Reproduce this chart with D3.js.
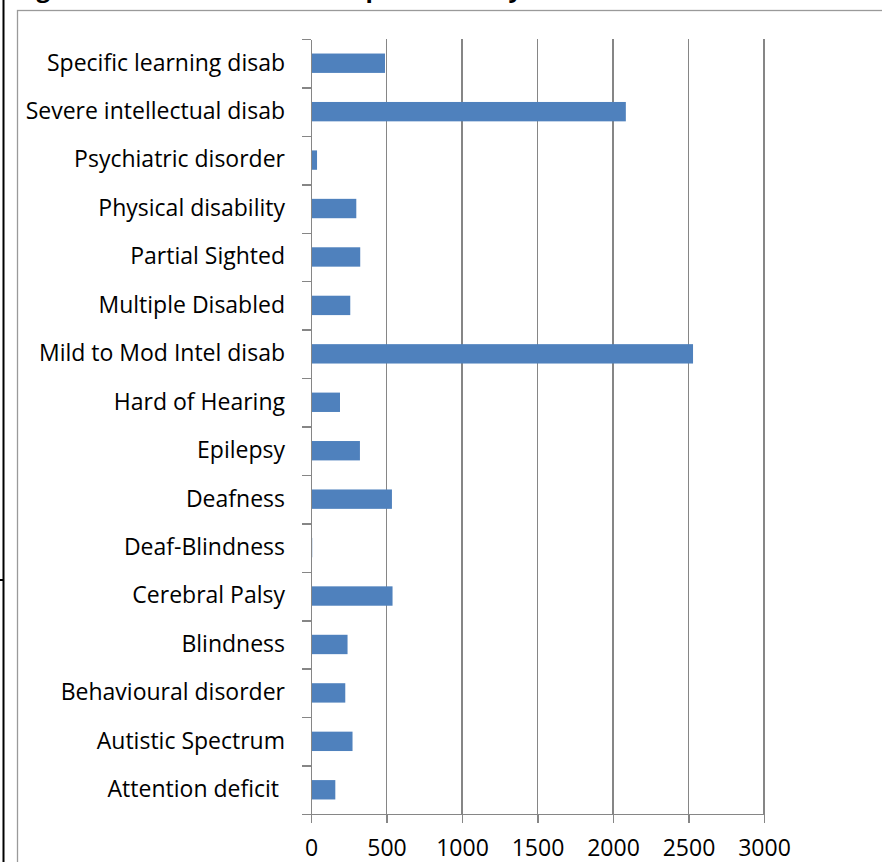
<!DOCTYPE html>
<html lang="en">
<head>
<meta charset="utf-8">
<title>Learners per disability</title>
<script type="text/javascript" src="https://cdnjs.cloudflare.com/ajax/libs/d3/7.8.5/d3.min.js"></script>
<style>
body { margin: 0; background: #fff; }
svg { display: block; }
.axis text { font-family: "Open Sans", sans-serif; font-size: 23px; fill: #000; }
.axis path, .axis line { stroke: #868686; stroke-width: 1.5; shape-rendering: crispEdges; }
</style>
</head>
<body>
<script type="text/javascript">

var w = 882;
var h = 862;

// categories, top to bottom as drawn
var categories = [
  "Specific learning disab",
  "Severe intellectual disab",
  "Psychiatric disorder",
  "Physical disability",
  "Partial Sighted",
  "Multiple Disabled",
  "Mild to Mod Intel disab",
  "Hard of Hearing",
  "Epilepsy",
  "Deafness",
  "Deaf-Blindness",
  "Cerebral Palsy",
  "Blindness",
  "Behavioural disorder",
  "Autistic Spectrum",
  "Attention deficit "
];
var values = [490, 2085, 40, 300, 326, 260, 2530, 192, 324, 536, 8, 540, 242, 227, 275, 161];
var xTicks = [0, 500, 1000, 1500, 2000, 2500, 3000];

var plotTop = 39, plotBottom = 814, plotLeft = 311, plotRight = 764;

var svg = d3.select("body").append("svg")
    .attr("width", w)
    .attr("height", h);

// page bits around the chart: caption cut off at the top, black rule, chart border
svg.append("text")
    .attr("x", 16)
    .attr("y", -3)
    .attr("font-family", "Open Sans, sans-serif")
    .attr("font-weight", "bold")
    .attr("font-size", "24px")
    .text("Figure 5: Number of learners per disability");

svg.append("line")
    .attr("x1", 3.5).attr("x2", 3.5).attr("y1", 0).attr("y2", h)
    .attr("stroke", "#000").attr("stroke-width", 2);
svg.append("line")
    .attr("x1", 0).attr("x2", 4).attr("y1", 580).attr("y2", 580)
    .attr("stroke", "#000").attr("stroke-width", 2);

svg.append("rect")
    .attr("x", 17.5).attr("y", 10.5)
    .attr("width", 900).attr("height", 900)
    .attr("fill", "none")
    .attr("stroke", "#9a9a9a")
    .attr("stroke-width", 1.3);

var xScale = d3.scaleLinear()
    .domain([0, 3000])
    .range([plotLeft, plotRight]);

var yScale = d3.scaleBand()
    .domain(categories)
    .range([plotTop, plotBottom])
    .paddingInner(0.6)
    .paddingOuter(0.3);

var yEdges = d3.scaleLinear()
    .domain([0, categories.length])
    .range([plotTop, plotBottom]);

// vertical gridlines
svg.append("g")
    .selectAll("line")
    .data(xTicks.slice(1))
    .enter()
    .append("line")
    .attr("x1", function(d) { return xScale(d); })
    .attr("x2", function(d) { return xScale(d); })
    .attr("y1", plotTop)
    .attr("y2", plotBottom)
    .attr("stroke", "#868686")
    .attr("stroke-width", 1.5)
    .attr("shape-rendering", "crispEdges");

// bars
svg.append("g")
    .selectAll("rect")
    .data(values)
    .enter()
    .append("rect")
    .attr("x", xScale(0))
    .attr("y", function(d, i) { return yScale(categories[i]); })
    .attr("width", function(d) { return xScale(d) - xScale(0); })
    .attr("height", yScale.bandwidth())
    .attr("fill", "#4f81bd");

// x axis
var xAxis = d3.axisBottom(xScale)
    .tickValues(xTicks)
    .tickFormat(d3.format("d"))
    .tickSize(9)
    .tickPadding(17)
    .tickSizeOuter(0);
svg.append("g")
    .attr("class", "axis")
    .attr("transform", "translate(0," + plotBottom + ")")
    .call(xAxis);

// y axis: tick marks between categories
var yTickAxis = d3.axisLeft(yEdges)
    .ticks(categories.length)
    .tickSize(9)
    .tickSizeOuter(0)
    .tickFormat("");
svg.append("g")
    .attr("class", "axis")
    .attr("transform", "translate(" + plotLeft + ",0)")
    .call(yTickAxis);

// y axis: category labels
var yAxis = d3.axisLeft(yScale).tickSize(0).tickPadding(26);
var yg = svg.append("g")
    .attr("class", "axis")
    .attr("transform", "translate(" + plotLeft + ",0)")
    .call(yAxis);
yg.select(".domain").remove();
yg.selectAll("text").style("white-space", "pre");

</script>
</body>
</html>
